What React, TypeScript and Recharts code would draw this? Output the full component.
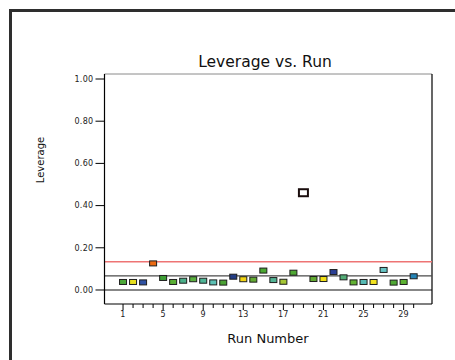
import React from 'react';
import { ScatterChart, Scatter, XAxis, YAxis, ReferenceLine } from 'recharts';

const runs = [1, 2, 3, 4, 5, 6, 7, 8, 9, 10, 11, 12, 13, 14, 15, 16, 17, 18, 19, 20, 21, 22, 23, 24, 25, 26, 27, 28, 29, 30];
const leverage = [0.038, 0.038, 0.036, 0.126, 0.057, 0.038, 0.044, 0.051, 0.044, 0.036, 0.035, 0.063, 0.051, 0.049, 0.092, 0.047, 0.039, 0.082, 0.461, 0.052, 0.052, 0.085, 0.060, 0.036, 0.038, 0.038, 0.095, 0.035, 0.038, 0.065];
const pointColors = ['#4da83a', '#e6df1e', '#2f52a3', '#ec6a12', '#3e9e35', '#5aae34', '#4bb08a', '#5aaf3e', '#4fb596', '#5cc0b4', '#4ba234', '#233d85', '#f2d512', '#62aa32', '#4aa832', '#52b394', '#a4c634', '#4fa834', '#ffffff', '#62aa32', '#f2e016', '#2b3f95', '#52ac76', '#62b233', '#56bab4', '#f2e321', '#66c4c4', '#4fa834', '#5cb232', '#2484b6'];
const yTicks = [0, 0.2, 0.4, 0.6, 0.8, 1.0];
const xLabeledTicks = [1, 5, 9, 13, 17, 21, 25, 29];
const averageLeverage = 0.0667;
const limitLeverage = 0.1333;
const xDomain = [-0.85, 31.83];
const yDomain = [-0.0664, 1.0237];

const data = runs.map((r, i) => ({ run: r, leverage: leverage[i], color: pointColors[i] }));

const FONT = '"DejaVu Sans", Verdana, sans-serif';

const XTick = (props: any) => {
  const { x, y, payload } = props;
  const major = xLabeledTicks.includes(payload.value);
  return (
    <g>
      <line x1={x} x2={x} y1={y} y2={y + (major ? 6 : 4)} stroke="#000" strokeWidth={1} />
      {major && (
        <text x={x} y={y + 13} textAnchor="middle" fontSize={8} fontFamily={FONT} fill="#222" letterSpacing={0.3}>
          {payload.value}
        </text>
      )}
    </g>
  );
};

const Marker = (props: any) => {
  const { cx, cy, payload } = props;
  if (cx == null || cy == null) return null;
  const flagged = payload.leverage > limitLeverage;
  if (flagged) {
    return <rect x={cx - 4.5} y={cy - 3.5} width={9} height={7} fill="#ffffff" stroke="#1a0d0d" strokeWidth={2} />;
  }
  return <rect x={cx - 3.5} y={cy - 2.5} width={7} height={5} fill={payload.color} stroke="#1e1e1e" strokeWidth={1} />;
};

export default function App() {
  return (
    <div style={{ position: 'absolute', left: 0, top: 0, width: 455, height: 360, overflow: 'hidden', background: '#fff' }}>
      <div style={{ position: 'absolute', left: 9, top: 9, width: 470, height: 380, border: '3px solid #2e2e2e' }} />
      <div style={{ position: 'absolute', left: 0, top: 0 }}>
        <ScatterChart width={455} height={360} margin={{ top: 74, right: 23, bottom: 26, left: 44.5 }}>
          <XAxis
            type="number"
            dataKey="run"
            domain={xDomain}
            ticks={runs}
            interval={0}
            allowDataOverflow
            tickLine={false}
            tickSize={0}
            tickMargin={0}
            height={30}
            axisLine={{ stroke: '#000', strokeWidth: 1.2 }}
            tick={<XTick />}
          />
          <YAxis
            type="number"
            dataKey="leverage"
            domain={yDomain}
            ticks={yTicks}
            interval={0}
            allowDataOverflow
            width={60}
            tickSize={9}
            tickMargin={2}
            tickFormatter={(v: number) => v.toFixed(2)}
            tickLine={{ stroke: '#000' }}
            axisLine={{ stroke: '#000', strokeWidth: 1.2 }}
            tick={{ fontSize: 8, fontFamily: FONT, fill: '#222', letterSpacing: 0.3 }}
          />
          <ReferenceLine y={yDomain[1]} stroke="#8a8a8a" strokeWidth={1} ifOverflow="visible" />
          <ReferenceLine x={xDomain[1]} stroke="#000" strokeWidth={1.2} ifOverflow="visible" />
          <ReferenceLine y={0} stroke="#111" strokeWidth={1.2} ifOverflow="visible" />
          <ReferenceLine y={averageLeverage} stroke="#4a4a4a" strokeWidth={1.2} ifOverflow="visible" />
          <ReferenceLine y={limitLeverage} stroke="#ee7474" strokeWidth={1.5} ifOverflow="visible" />
          <Scatter data={data} shape={Marker} isAnimationActive={false} />
        </ScatterChart>
      </div>
      <svg width={455} height={360} style={{ position: 'absolute', left: 0, top: 0, pointerEvents: 'none' }}>
        <text x={265} y={66.5} textAnchor="middle" fontSize={15.5} fontFamily={FONT} fill="#111">Leverage vs. Run</text>
        <text x={268} y={342.5} textAnchor="middle" fontSize={13} fontFamily={FONT} fill="#111">Run Number</text>
        <text x={44} y={160} transform="rotate(-90 44 160)" textAnchor="middle" fontSize={10} fontFamily={FONT} fill="#111">Leverage</text>
      </svg>
    </div>
  );
}
